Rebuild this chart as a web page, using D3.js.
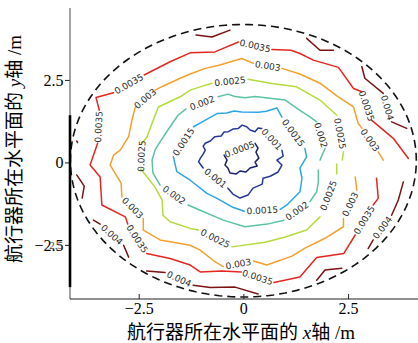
<!DOCTYPE html>
<html>
<head>
<meta charset="utf-8">
<script src="https://cdn.jsdelivr.net/npm/d3@7"></script>
<style>
  body { margin: 0; background: #fff; }
  svg { display: block; }
</style>
</head>
<body>
<svg id="chart" width="418" height="343"></svg>
<script>
// Contour levels of the field and their line colours
const levels = [0.0005, 0.001, 0.0015, 0.002, 0.0025, 0.003, 0.0035, 0.004];
const levelColors = ["#1b1f70", "#26399a", "#2ea6e6", "#5cc3a2", "#b4db3e", "#f5a02a", "#e52620", "#7a1313"];

const xTicks = [-2.5, 0, 2.5];
const yTicks = [-2.5, 0, 2.5];
const xDomain = [-4.14, 4.17];
const yDomain = [-4.14, 4.68];

// boundary of the horizontal working area (dashed)
const boundaryCenter = [0, 0.05];
const boundaryRadius = 4.13;

// Each contour: open pieces of polyline [x, y] in metres;
// label gaps are [piece a, piece b] = label between end of a and start of b.
const contour0005 = [
  [[0.28,0.58],[0.35,0.43],[0.30,0.31],[0.37,0.13],[0.28,0.01],[0.33,-0.11],[0.16,-0.17],[0.06,-0.29],[-0.08,-0.26],[-0.17,-0.35],[-0.32,-0.32],[-0.37,-0.17],[-0.44,-0.08],[-0.39,0.07],[-0.46,0.22]]
];
const labels0005 = [[0, 0]];

const contour001 = [
  [[0.92,0.37],[0.95,0.19],[0.80,0.07],[0.92,-0.08],[0.83,-0.29],[0.64,-0.42],[0.47,-0.48],[0.45,-0.66],[0.23,-0.78],[0.11,-0.99],[-0.08,-1.08],[-0.25,-0.96],[-0.37,-0.78]],
  [[-0.96,-0.17],[-1.07,0.02],[-1.03,0.12],[-0.96,0.25],[-0.91,0.37],[-0.96,0.49],[-0.91,0.58],[-0.79,0.65],[-0.68,0.78],[-0.53,0.80],[-0.46,0.92],[-0.36,0.93],[-0.25,1.01],[-0.12,1.03],[-0.03,1.13],[0.08,1.08],[0.16,0.98],[0.28,0.93],[0.35,1.04],[0.44,1.03]]
];
const labels001 = [[0, 1], [1, 0]];

const contour0015 = [
  [[-1.19,1.08],[-0.95,1.25],[-0.63,1.48],[-0.40,1.50],[-0.22,1.56],[-0.04,1.53],[0.36,1.52],[0.55,1.55],[0.80,1.65],[0.92,1.37]],
  [[1.47,0.42],[1.51,0.17],[1.35,-0.17],[1.40,-0.48],[1.35,-0.89],[1.04,-1.29],[0.88,-1.42]],
  [[0.02,-1.48],[-0.27,-1.35],[-0.63,-1.09],[-0.87,-0.94],[-1.27,-0.54],[-1.59,-0.28],[-1.67,0.17]]
];
const labels0015 = [[0, 1], [1, 2], [2, 0]];

const contour002 = [
  [[-0.60,1.99],[-0.37,2.07],[-0.20,2.00],[0.04,1.96],[0.28,2.00],[0.68,1.94],[1.00,1.89],[1.35,1.58],[1.59,1.38],[1.75,1.23]],
  [[1.95,0.42],[1.83,0.07]],
  [[1.79,-0.23],[1.79,-0.60],[1.75,-0.89],[1.59,-1.19]],
  [[0.97,-1.75],[0.57,-1.87],[0.04,-1.95],[-0.48,-1.75],[-1.03,-1.45],[-1.32,-1.29]],
  [[-1.99,-0.69],[-2.16,-0.32],[-2.18,0.07],[-2.11,0.37],[-1.99,0.62],[-1.75,1.08],[-1.56,1.43],[-1.37,1.62]]
];
const labels002 = [[0, 1], [2, 3], [3, 4], [4, 0]];

const contour0025 = [
  [[-2.42,0.58],[-2.30,0.77],[-2.18,1.19],[-2.03,1.68],[-1.51,1.99],[-1.27,2.19],[-1.03,2.29],[-0.75,2.40]],
  [[0.11,2.52],[0.68,2.39],[1.27,2.29],[1.83,1.89],[2.23,1.43]],
  [[2.39,0.32],[2.36,0.07]],
  [[2.23,-0.05],[2.23,-0.35]],
  [[1.83,-1.65],[1.51,-2.05],[1.00,-2.26],[0.52,-2.42],[-0.27,-2.56]],
  [[-1.07,-2.05],[-1.27,-2.00],[-1.75,-1.80],[-1.92,-1.60],[-1.94,-1.14],[-2.11,-0.75],[-2.45,-0.20]]
];
const labels0025 = [[0, 1], [1, 2], [3, 4], [4, 5], [5, 0]];

const contour003 = [
  [[-2.11,2.19],[-1.92,2.31],[-1.51,2.55],[-1.27,2.68],[-0.91,2.85],[-0.56,2.95],[-0.04,3.15],[0.24,3.00]],
  [[0.92,2.85],[1.35,2.68],[1.83,2.40],[2.24,2.01],[2.63,1.68],[2.74,1.19],[2.83,1.03]],
  [[3.22,0.32],[3.34,0.07]],
  [[2.67,-0.44],[2.71,-0.84]],
  [[2.39,-1.70],[2.39,-1.95],[1.95,-2.30],[1.47,-2.60],[1.16,-2.84],[0.56,-3.11],[0.24,-2.99]],
  [[-0.48,-3.16],[-0.68,-3.01],[-1.03,-2.66],[-1.27,-2.51],[-1.99,-2.35],[-2.39,-2.05],[-2.39,-1.70]],
  [[-2.90,-1.05],[-2.92,-0.63],[-3.18,-0.08],[-3.10,0.22],[-2.94,0.37],[-2.74,0.78],[-2.66,1.28],[-2.58,1.68]]
];
const labels003 = [[0, 1], [1, 2], [3, 4], [4, 5], [5, 6], [6, 0]];

const contour0035 = [
  [[-2.37,2.65],[-1.75,3.05],[-1.27,3.32],[-0.68,3.35],[-0.12,3.65]],
  [[0.68,3.42],[1.14,3.40],[1.35,3.30],[1.67,3.10],[2.27,2.88],[2.63,2.24],[2.83,2.14]],
  [[3.06,1.28],[3.58,0.73],[3.94,0.12]],
  [[3.18,-0.48],[3.22,-1.09],[3.10,-1.29]],
  [[2.67,-2.20],[2.40,-2.76],[1.75,-2.88],[1.35,-3.47],[0.73,-3.64]],
  [[-0.05,-3.32],[-0.51,-3.29],[-1.03,-3.32],[-1.27,-3.11],[-1.75,-2.91],[-2.31,-2.76]],
  [[-2.76,-1.87],[-2.82,-1.65],[-3.38,-1.29],[-3.42,-0.44],[-3.66,-0.08],[-3.58,0.22],[-3.48,0.58]],
  [[-3.44,1.58],[-3.52,1.97],[-3.10,2.11]]
];
const labels0035 = [[0, 1], [1, 2], [3, 4], [4, 5], [5, 6], [6, 7], [7, 0]];

const contour004 = [
  [[-1.13,3.86],[-0.75,3.80],[-0.32,4.01]],
  [[1.51,3.76],[1.83,3.40],[2.15,3.40]],
  [[2.83,2.90],[2.90,2.55],[3.34,2.09]],
  [[3.54,1.23],[3.90,1.03]],
  [[3.82,-0.59],[3.70,-1.14],[3.54,-1.60]],
  [[3.10,-2.35],[2.98,-2.61]],
  [[1.75,-3.57],[1.95,-3.26],[2.35,-3.21]],
  [[-2.31,-3.29],[-1.87,-3.34]],
  [[-1.20,-3.72],[-0.79,-3.79],[-0.20,-3.78],[0.35,-3.99]],
  [[-3.58,-1.75],[-3.42,-1.87]],
  [[-2.86,-2.51],[-2.74,-2.87]],
  [[-3.98,-0.38],[-3.80,-0.72],[-3.85,-1.08]],
  [[-3.98,0.65],[-3.96,0.60]]
];
const labels004 = [[2, 3], [4, 5], [7, 8], [9, 10]];

const contourSets = [
  { level: levels[0], pieces: contour0005, labels: labels0005, color: levelColors[0] },
  { level: levels[1], pieces: contour001,  labels: labels001,  color: levelColors[1] },
  { level: levels[2], pieces: contour0015, labels: labels0015, color: levelColors[2] },
  { level: levels[3], pieces: contour002,  labels: labels002,  color: levelColors[3] },
  { level: levels[4], pieces: contour0025, labels: labels0025, color: levelColors[4] },
  { level: levels[5], pieces: contour003,  labels: labels003,  color: levelColors[5] },
  { level: levels[6], pieces: contour0035, labels: labels0035, color: levelColors[6] },
  { level: levels[7], pieces: contour004,  labels: labels004,  color: levelColors[7] }
];

const svg = d3.select("#chart");
const plot = { left: 70, right: 418, top: 8, bottom: 299 };

const x = d3.scaleLinear().domain(xDomain).range([plot.left, plot.right]);
const y = d3.scaleLinear().domain(yDomain).range([plot.bottom, plot.top]);

const line = d3.line().x(d => x(d[0])).y(d => y(d[1]));

// contour lines
const gLines = svg.append("g").attr("fill", "none")
  .attr("stroke-width", 1.5).attr("stroke-linejoin", "round").attr("stroke-linecap", "round");
contourSets.forEach(set => {
  set.pieces.forEach(piece => {
    gLines.append("path").attr("d", line(piece)).attr("stroke", set.color);
  });
});

// inline contour labels, placed in the gaps
const gLabels = svg.append("g")
  .attr("font-family", "'DejaVu Sans', sans-serif").attr("font-size", 9)
  .attr("fill", "#2a2a2a").attr("text-anchor", "middle");
contourSets.forEach(set => {
  set.labels.forEach(([a, b]) => {
    const p = set.pieces[a][set.pieces[a].length - 1];
    const q = set.pieces[b][0];
    const x1 = x(p[0]), y1 = y(p[1]), x2 = x(q[0]), y2 = y(q[1]);
    let ang = Math.atan2(y2 - y1, x2 - x1) * 180 / Math.PI;
    if (ang > 90) ang -= 180;
    if (ang <= -90) ang += 180;
    const cx = (x1 + x2) / 2, cy = (y1 + y2) / 2;
    gLabels.append("text")
      .attr("transform", `translate(${cx},${cy}) rotate(${ang})`)
      .attr("dy", "0.36em")
      .text(String(set.level));
  });
});

// dashed boundary
const ring = d3.range(0, 361, 2).map(a => {
  const t = a * Math.PI / 180;
  return [boundaryCenter[0] + boundaryRadius * Math.cos(t), boundaryCenter[1] + boundaryRadius * Math.sin(t)];
});
svg.append("path").attr("d", line(ring)).attr("fill", "none")
  .attr("stroke", "#111").attr("stroke-width", 1.6).attr("stroke-dasharray", "8,5");

// axes
const fmt = d => d === 0 ? "0" : d3.format(".1f")(d);
const serif = "'Liberation Serif', 'Times New Roman', serif";

const gx = svg.append("g").attr("transform", `translate(0,${plot.bottom})`)
  .attr("font-family", serif).attr("font-size", 16)
  .call(d3.axisBottom(x).tickValues(xTicks).tickSize(-5).tickPadding(4).tickFormat(fmt));
gx.attr("font-family", serif).attr("font-size", 16);
gx.select(".domain").remove();
gx.selectAll(".tick line").attr("stroke", "#222");
gx.selectAll("text").attr("font-family", serif).attr("font-size", 16).attr("fill", "#000");

const gy = svg.append("g").attr("transform", `translate(${plot.left},0)`)
  .call(d3.axisLeft(y).tickValues(yTicks).tickSize(5).tickPadding(1.5).tickFormat(fmt));
gy.attr("font-family", serif).attr("font-size", 16);
gy.select(".domain").remove();
gy.selectAll(".tick line").attr("stroke", "#222");
gy.selectAll("text").attr("font-family", serif).attr("font-size", 16).attr("fill", "#000");

// faint smaller duplicate of the lowest y tick label
svg.append("text").attr("x", plot.left - 7).attr("y", y(-2.5) + 4)
  .attr("text-anchor", "end").attr("font-family", serif).attr("font-size", 11)
  .attr("fill", "#444").text("2.5");

// spines
svg.append("line").attr("x1", plot.left).attr("x2", plot.left)
  .attr("y1", plot.top).attr("y2", plot.bottom).attr("stroke", "#666").attr("stroke-width", 1.2);
svg.append("line").attr("x1", plot.left).attr("x2", plot.right)
  .attr("y1", plot.bottom).attr("y2", plot.bottom).attr("stroke", "#222").attr("stroke-width", 1.2);
svg.append("line").attr("x1", plot.left).attr("x2", plot.left)
  .attr("y1", y(1.43)).attr("y2", y(-3.78)).attr("stroke", "#000").attr("stroke-width", 2.6);

// axis titles
const cjk = "'Noto Sans CJK SC', sans-serif";
const xt = svg.append("text").attr("x", 241).attr("y", 339).attr("text-anchor", "middle")
  .attr("font-size", 19).attr("fill", "#000");
xt.append("tspan").attr("font-family", cjk).text("航行器所在水平面的");
xt.append("tspan").attr("font-family", serif).attr("font-style", "italic").text(" x");
xt.append("tspan").attr("font-family", cjk).text("轴");
xt.append("tspan").attr("font-family", serif).text(" /m");

const yt = svg.append("text").attr("transform", "translate(21,149) rotate(-90)")
  .attr("text-anchor", "middle").attr("font-size", 19).attr("fill", "#000");
yt.append("tspan").attr("font-family", cjk).text("航行器所在水平面的");
yt.append("tspan").attr("font-family", serif).attr("font-style", "italic").text(" y");
yt.append("tspan").attr("font-family", cjk).text("轴");
yt.append("tspan").attr("font-family", serif).text(" /m");
</script>
</body>
</html>
